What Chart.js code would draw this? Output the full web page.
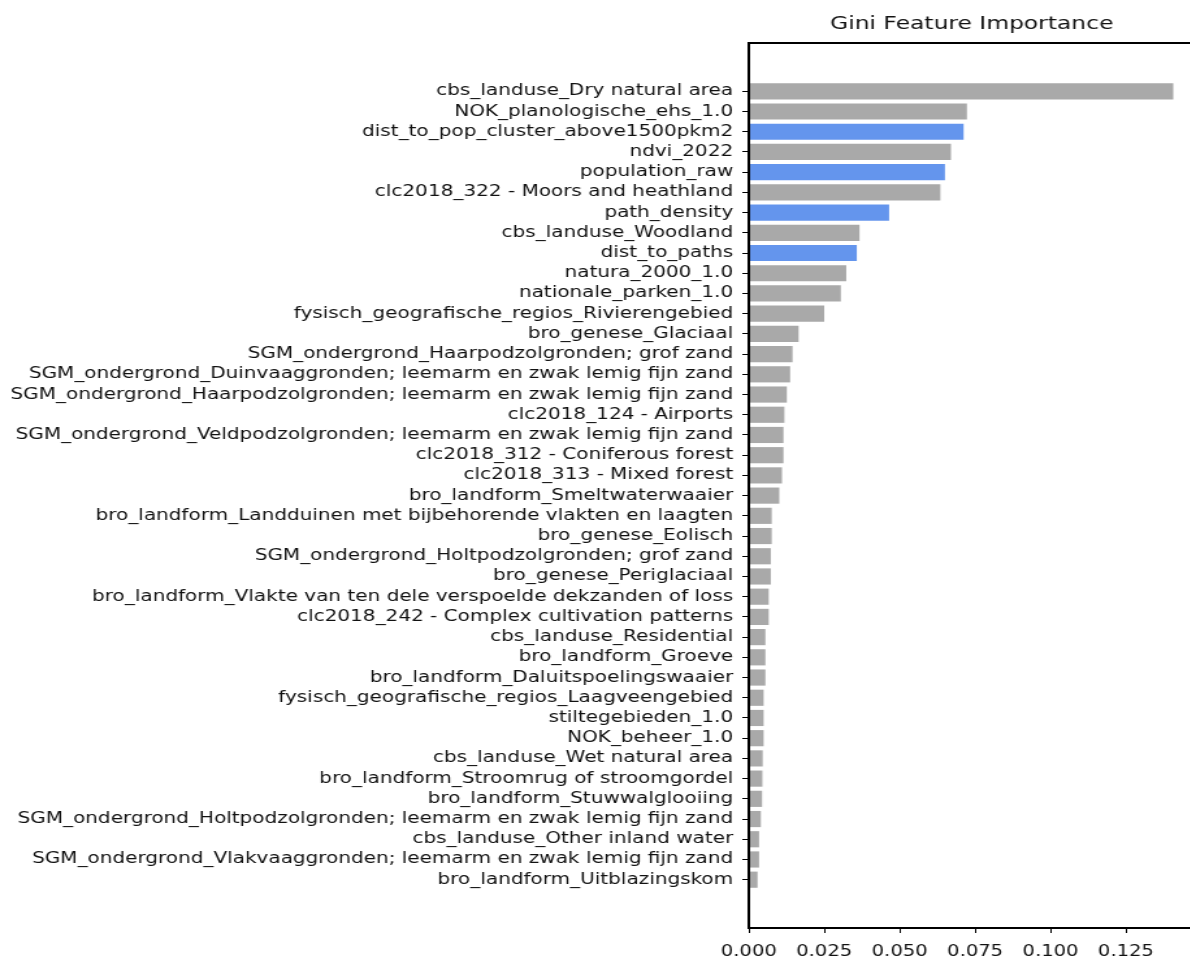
<!DOCTYPE html>
<html>
<head>
<meta charset="utf-8">
<title>Gini Feature Importance</title>
<script src="https://cdn.jsdelivr.net/npm/chart.js@4.4.0/dist/chart.umd.min.js"></script>
<style>
    html, body { margin: 0; padding: 0; background: #fff; overflow: hidden; }
    /* the figure is drawn narrow and stretched sideways */
    #moldura { width: 923px; height: 960px; transform: scaleX(1.3); transform-origin: 0 0; }
    #graficoGini { display: block; }
</style>
</head>
<body>
<div id="moldura"><canvas id="graficoGini" width="923" height="960"></canvas></div>
<script>
const features = [
    'cbs_landuse_Dry natural area',
    'NOK_planologische_ehs_1.0',
    'dist_to_pop_cluster_above1500pkm2',
    'ndvi_2022',
    'population_raw',
    'clc2018_322 - Moors and heathland',
    'path_density',
    'cbs_landuse_Woodland',
    'dist_to_paths',
    'natura_2000_1.0',
    'nationale_parken_1.0',
    'fysisch_geografische_regios_Rivierengebied',
    'bro_genese_Glaciaal',
    'SGM_ondergrond_Haarpodzolgronden; grof zand',
    'SGM_ondergrond_Duinvaaggronden; leemarm en zwak lemig fijn zand',
    'SGM_ondergrond_Haarpodzolgronden; leemarm en zwak lemig fijn zand',
    'clc2018_124 - Airports',
    'SGM_ondergrond_Veldpodzolgronden; leemarm en zwak lemig fijn zand',
    'clc2018_312 - Coniferous forest',
    'clc2018_313 - Mixed forest',
    'bro_landform_Smeltwaterwaaier',
    'bro_landform_Landduinen met bijbehorende vlakten en laagten',
    'bro_genese_Eolisch',
    'SGM_ondergrond_Holtpodzolgronden; grof zand',
    'bro_genese_Periglaciaal',
    'bro_landform_Vlakte van ten dele verspoelde dekzanden of loss',
    'clc2018_242 - Complex cultivation patterns',
    'cbs_landuse_Residential',
    'bro_landform_Groeve',
    'bro_landform_Daluitspoelingswaaier',
    'fysisch_geografische_regios_Laagveengebied',
    'stiltegebieden_1.0',
    'NOK_beheer_1.0',
    'cbs_landuse_Wet natural area',
    'bro_landform_Stroomrug of stroomgordel',
    'bro_landform_Stuwwalglooiing',
    'SGM_ondergrond_Holtpodzolgronden; leemarm en zwak lemig fijn zand',
    'cbs_landuse_Other inland water',
    'SGM_ondergrond_Vlakvaaggronden; leemarm en zwak lemig fijn zand',
    'bro_landform_Uitblazingskom'
];

var importancia = [
    0.1407, 0.0723, 0.0712, 0.0670, 0.0650, 0.0635, 0.0465, 0.0367, 0.0358, 0.0323,
    0.0305, 0.0250, 0.0165, 0.0145, 0.0137, 0.0126, 0.0118, 0.0115, 0.0115, 0.0110,
    0.0101, 0.0076, 0.0076, 0.0073, 0.0073, 0.0066, 0.0066, 0.0055, 0.0055, 0.0055,
    0.0049, 0.0049, 0.0049, 0.0046, 0.0045, 0.0044, 0.0040, 0.0034, 0.0034, 0.0029
];

// features in blue
const destacadas = ['dist_to_pop_cluster_above1500pkm2', 'population_raw', 'path_density', 'dist_to_paths'];

const ticksX = [0, 0.025, 0.05, 0.075, 0.1, 0.125];

const corPadrao = '#a9a9a9';
const corDestaque = '#6495ed';
const fonte = 'DejaVu Sans';

// box around the plot area
const contorno = {
    id: 'contorno',
    afterDraw(chart) {
        const { ctx, chartArea } = chart;
        ctx.save();
        ctx.strokeStyle = '#000';
        ctx.lineWidth = 2;
        ctx.beginPath();
        ctx.moveTo(chartArea.left, chartArea.top);
        ctx.lineTo(chartArea.right, chartArea.top);
        ctx.lineTo(chartArea.right, chartArea.bottom);
        ctx.lineTo(chartArea.left, chartArea.bottom);
        ctx.closePath();
        ctx.stroke();
        ctx.restore();
    }
};

const data_graficoGini = {
    datasets: [
        {
            label: 'Gini',
            data: importancia.map((v, i) => ({ x: v, y: i })),
            backgroundColor: features.map(f => destacadas.includes(f) ? corDestaque : corPadrao),
            borderWidth: 0,
            categoryPercentage: 1,
            barPercentage: 0.8
        }
    ]
};

const config_graficoGini = {
    type: 'bar',
    data: data_graficoGini,
    options: {
        indexAxis: 'y',
        responsive: false,
        animation: false,
        layout: {
            padding: { left: 0, right: 4, top: 0, bottom: 0 }
        },
        scales: {
            x: {
                type: 'linear',
                min: 0,
                max: 0.1478,
                afterBuildTicks: s => { s.ticks = ticksX.map(v => ({ value: v })); },
                afterFit: s => { s.height = 32; },
                grid: {
                    drawOnChartArea: false,
                    tickLength: 5,
                    tickColor: '#000'
                },
                border: { display: true, color: '#000', width: 2 },
                ticks: {
                    autoSkip: false,
                    maxRotation: 0,
                    padding: 10,
                    color: '#111',
                    font: { family: fonte, size: 15 },
                    callback: v => v.toFixed(3)
                }
            },
            y: {
                type: 'linear',
                reverse: true,
                offset: false,
                min: -2.39,
                max: 41.39,
                afterBuildTicks: s => { s.ticks = features.map((_, i) => ({ value: i })); },
                afterFit: s => { s.width = 576; },
                grid: {
                    drawOnChartArea: false,
                    offset: false,
                    tickLength: 5,
                    tickColor: '#000'
                },
                border: { display: true, color: '#000', width: 1.2 },
                ticks: {
                    autoSkip: false,
                    padding: 7,
                    color: '#111',
                    font: { family: fonte, size: 15.4 },
                    callback: v => features[v]
                }
            }
        },
        plugins: {
            legend: { display: false },
            tooltip: { enabled: false },
            title: {
                display: true,
                text: 'Gini Feature Importance',
                fullSize: false,
                color: '#111',
                font: { family: fonte, size: 18, weight: 'normal' },
                padding: { top: 14, bottom: 7.4 }
            }
        }
    },
    plugins: [contorno]
};

const graficoGini = new Chart(document.getElementById('graficoGini'), config_graficoGini);
</script>
</body>
</html>
